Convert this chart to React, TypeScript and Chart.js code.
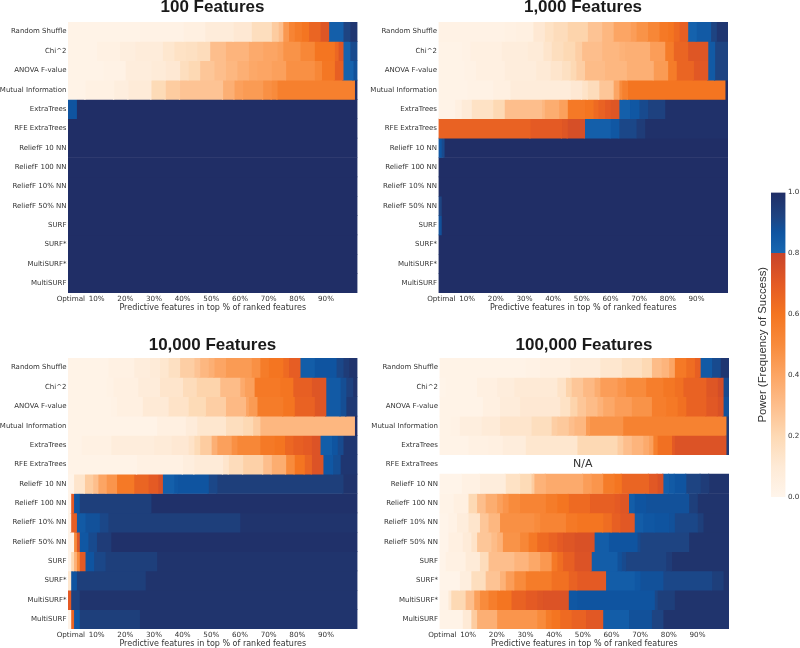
import React, { useEffect, useRef } from "react";
import { Chart, registerables } from "chart.js";

Chart.register(...registerables);

type Seg = [number, number]; // [last percentile column of the run, power]

const methods = ["Random Shuffle", "Chi^2", "ANOVA F-value", "Mutual Information", "ExtraTrees", "RFE ExtraTrees", "ReliefF 10 NN", "ReliefF 100 NN", "ReliefF 10% NN", "ReliefF 50% NN", "SURF", "SURF*", "MultiSURF*", "MultiSURF"];
const tickPositions = [1, 10, 20, 30, 40, 50, 60, 70, 80, 90];
const tickLabels = ["Optimal", "10%", "20%", "30%", "40%", "50%", "60%", "70%", "80%", "90%"];
const colorbarTicks = [0, 0.2, 0.4, 0.6, 0.8, 1];

const power100: Seg[][] = [
  [[25,.02],[40.2,.03],[47.8,.05],[57.7,.08],[64,.11],[71,.17],[73.4,.25],[75,.3],[77,.45],[79,.53],[81.5,.57],[84,.6],[88,.66],[91,.72],[96,.83],[98.4,.92],[101,.97]],
  [[10,.02],[18,.04],[23.4,.06],[33,.08],[37,.12],[41,.15],[45,.16],[49.5,.18],[55,.3],[63,.34],[68,.38],[73,.4],[75,.42],[81,.47],[86,.52],[93,.6],[94.3,.65],[96,.72],[98.4,.82],[101,.9]],
  [[12.3,.02],[20,.03],[29,.07],[34,.09],[39,.11],[42,.17],[46,.2],[51,.27],[55,.3],[59,.33],[63,.36],[66,.39],[71,.4],[76,.42],[86,.48],[88.5,.52],[93,.59],[96,.68],[99.5,.82],[101,.88]],
  [[6,.02],[16,.04],[21,.06],[29,.09],[34,.19],[39,.25],[54,.28],[58,.36],[61,.42],[68,.44],[71,.48],[73,.5],[100,.55],[101,1]],
  [[3,.87],[101,1]],
  [[101,1]], [[101,1]], [[101,1]], [[101,1]], [[101,1]], [[101,1]], [[101,1]], [[101,1]], [[101,1]],
];

const power1000: Seg[][] = [
  [[23,.03],[27,.04],[33,.05],[37,.11],[40,.15],[45,.18],[52,.22],[57,.28],[61,.33],[67,.4],[69,.43],[73,.47],[77,.52],[80,.58],[82,.6],[84,.64],[87,.68],[90,.82],[95,.85],[97,.92],[101,.97]],
  [[8,.02],[11,.03],[22,.05],[31,.07],[36.5,.09],[39.4,.13],[43.5,.17],[47.6,.2],[50,.24],[57,.3],[63,.33],[65,.35],[73.7,.36],[79,.43],[82,.57],[87,.66],[94,.72],[96.4,.85],[101,.92]],
  [[9,.02],[13,.03],[23,.05],[34,.07],[39,.1],[43,.13],[46,.16],[48,.2],[51,.24],[58,.31],[65.6,.33],[75,.36],[80,.44],[83,.57],[89,.66],[94,.71],[96.4,.85],[101,.92]],
  [[10,.02],[19,.03],[25,.05],[46,.08],[50,.11],[52,.14],[56,.18],[61,.27],[63,.4],[64,.5],[66,.55],[100,.6],[101,1]],
  [[5.7,.02],[8,.05],[11.5,.09],[19,.15],[23,.2],[36,.3],[37,.33],[42,.37],[45,.42],[51,.58],[54,.6],[55.7,.64],[58,.67],[60,.7],[63,.72],[66.7,.83],[70,.86],[73,.9],[79,.93],[101,.99]],
  [[32,.67],[43,.7],[45,.72],[51,.75],[60,.83],[63,.86],[69,.91],[72,.95],[101,.99]],
  [[1,.86],[2,.9],[101,1]],
  [[101,1]], [[101,1]],
  [[1,.92],[101,1]],
  [[1,.88],[101,1]],
  [[101,1]], [[101,1]], [[101,1]],
];

const power10000: Seg[][] = [
  [[14,.02],[23,.04],[28.5,.07],[32,.09],[35,.12],[39,.16],[44,.24],[46,.28],[49,.33],[51,.36],[55,.4],[64,.44],[67,.48],[70,.57],[75,.6],[77,.64],[81,.69],[86,.84],[93.6,.87],[96,.91],[98,.95],[101,.98]],
  [[13.4,.02],[15.7,.03],[24.4,.05],[32,.08],[40,.13],[44.8,.18],[53,.22],[60,.31],[61.6,.38],[65,.42],[74,.58],[78.5,.6],[85,.68],[90,.72],[95,.85],[97,.89],[99.4,.93],[101,.98]],
  [[15,.02],[17,.03],[26,.05],[35,.1],[42,.14],[48,.19],[55,.24],[62,.32],[63,.4],[66,.44],[75,.57],[79,.6],[86,.67],[90,.72],[95,.85],[97,.89],[101,.96]],
  [[31,.02],[41,.05],[45,.08],[55,.12],[61,.17],[64.5,.2],[67,.25],[100,.33],[101,1]],
  [[4.7,.02],[15,.04],[30,.07],[36,.09],[42,.11],[44,.14],[46,.19],[50,.25],[52,.36],[57,.42],[59,.48],[67,.52],[72,.58],[75.6,.6],[78.5,.65],[82,.68],[85,.7],[88,.73],[92,.84],[94,.87],[96,.9],[101,.97]],
  [[24,.02],[40,.04],[44,.06],[54,.09],[56,.13],[61,.18],[68,.23],[71,.3],[76,.37],[79,.5],[82.5,.6],[85,.66],[89,.73],[92.4,.86],[95,.89],[101,.97]],
  [[2,.01],[5.8,.13],[8.7,.25],[10.5,.3],[13.4,.4],[17,.46],[23,.58],[28,.66],[31.4,.7],[33,.74],[37,.83],[38.4,.86],[49,.87],[52,.91],[96,.94],[101,.98]],
  [[1,.01],[2,.7],[4,.87],[29,.94],[101,.99]],
  [[1,.02],[3,.68],[6,.85],[11,.88],[14,.91],[60,.94],[101,.98]],
  [[2,.02],[3,.5],[4,.72],[7,.86],[10,.9],[15,.95],[101,.99]],
  [[1,.01],[2,.2],[3,.35],[4,.5],[6,.7],[9,.87],[13,.91],[31,.94],[101,.98]],
  [[1,.12],[3,.87],[27,.94],[101,.98]],
  [[1,.7],[4,.93],[101,.98]],
  [[1,.02],[2,.66],[4,.86],[25,.94],[101,.98]],
];

const power100000: Seg[][] = [
  [[30,.02],[35,.03],[45.5,.05],[56,.08],[63.5,.12],[70.5,.16],[74,.2],[77.4,.31],[80,.34],[82,.4],[86,.58],[89,.63],[91,.68],[95,.85],[98,.9],[101,.97]],
  [[2,.01],[13,.02],[20,.05],[26,.07],[41,.1],[44,.14],[46,.22],[50,.27],[54,.32],[56,.37],[62,.43],[65,.46],[72,.5],[78,.56],[82,.59],[85,.62],[93,.67],[97,.72],[99,.76],[101,.9]],
  [[15,.02],[21,.05],[28,.08],[42,.11],[45.5,.15],[48,.22],[51,.27],[55,.31],[57,.35],[61,.39],[67,.43],[74,.47],[79,.56],[83,.58],[86,.62],[93,.67],[97,.71],[99,.74],[101,.88]],
  [[3.6,.02],[7,.03],[14.6,.06],[21,.09],[32,.13],[39,.17],[41,.24],[45,.26],[47,.3],[51,.33],[52.4,.44],[64,.47],[100,.54],[101,.95]],
  [[10,.02],[17,.04],[22,.05],[30,.07],[48,.12],[62,.2],[64,.25],[67,.3],[71,.34],[73,.38],[74.5,.42],[76,.55],[81,.62],[82,.7],[100,.73],[101,.95]],
  [],
  [[7.7,.01],[14,.04],[23,.07],[28,.15],[32,.19],[33,.25],[37,.35],[50,.38],[53,.43],[57,.46],[61,.57],[63.5,.6],[73,.66],[76,.71],[78,.74],[80,.83],[82,.85],[86,.87],[91,.92],[94,.95],[101,.98]],
  [[4.8,.02],[10,.05],[13,.2],[16,.3],[20,.37],[22,.42],[24,.46],[28,.5],[37,.53],[41,.57],[45,.6],[52.4,.64],[61,.68],[63,.7],[66,.72],[68,.84],[72,.87],[87,.88],[90,.94],[101,.98]],
  [[3,.01],[6,.03],[10,.07],[14,.13],[17,.27],[21,.33],[33,.48],[35,.5],[44,.53],[48,.58],[57,.6],[60,.63],[63,.68],[68,.71],[71,.84],[75,.86],[80,.87],[82,.88],[90,.91],[92,.94],[101,.98]],
  [[3,.01],[8,.05],[11,.09],[13,.14],[18,.27],[20,.31],[22,.35],[28,.47],[31,.52],[34,.58],[38,.64],[41,.67],[43,.7],[47,.72],[54,.74],[59,.84],[69,.87],[70,.9],[87,.92],[101,.98]],
  [[2,.01],[9,.04],[14,.09],[17,.18],[26,.3],[31,.34],[35,.39],[39,.45],[41,.58],[43,.63],[47,.68],[53,.73],[62,.84],[63.5,.88],[65,.9],[79,.92],[81,.95],[101,.98]],
  [[7,.01],[11,.06],[16,.17],[21,.28],[23,.35],[26,.43],[30,.5],[39,.57],[45,.62],[48,.67],[58,.7],[68,.84],[70,.86],[78,.88],[95,.91],[99,.94],[101,.98]],
  [[3,.02],[4,.1],[9,.2],[12,.3],[14,.42],[17,.5],[20,.56],[25,.6],[30,.67],[34,.7],[36,.72],[45,.73],[48,.86],[75,.87],[76,.91],[82,.94],[101,.98]],
  [[8,.02],[11,.1],[13,.25],[20,.36],[34,.46],[37,.5],[39,.57],[42,.6],[46,.64],[51,.67],[57,.71],[66,.84],[74,.88],[78,.92],[101,.98]],
];

const orangeStops: [number, number[]][] = [
  [0, [255, 245, 235]], [0.1, [254, 234, 214]], [0.2, [253, 217, 180]], [0.3, [253, 190, 140]],
  [0.4, [252, 165, 100]], [0.5, [248, 139, 60]], [0.6, [244, 117, 33]], [0.7, [228, 90, 36]], [0.8, [200, 68, 42]],
];
const blueStops: [number, number[]][] = [
  [0.8, [24, 104, 178]], [0.87, [15, 84, 160]], [0.92, [30, 68, 130]], [1, [32, 46, 102]],
];

function ramp(stops: [number, number[]][], v: number): string {
  for (let i = 1; i < stops.length; i++) {
    const [b, cb] = stops[i];
    const [a, ca] = stops[i - 1];
    if (v <= b) {
      const t = (v - a) / (b - a);
      return `rgb(${ca.map((c, j) => Math.round(c + (cb[j] - c) * t)).join(",")})`;
    }
  }
  const last = stops[stops.length - 1][1];
  return `rgb(${last.join(",")})`;
}
const powerColor = (v: number) => (v < 0.8 ? ramp(orangeStops, v) : ramp(blueStops, v));

const TEXT = "#333333";
const LABEL_FONT = "'DejaVu Sans'";
const TITLE_FONT = "'Liberation Sans'";

type PanelDef = { title: string; rows: Seg[][]; left: number; top: number; width: number; height: number; axisW: number; padRight: number; titleGap: number; naRow?: number };

const panels: PanelDef[] = [
  { title: "100 Features", rows: power100, left: 0, top: -1, width: 425, height: 326, axisW: 68, padRight: 67.5, titleGap: 6 },
  { title: "1,000 Features", rows: power1000, left: 370, top: -1, width: 426, height: 326, axisW: 68.5, padRight: 68, titleGap: 6 },
  { title: "10,000 Features", rows: power10000, left: 0, top: 337, width: 425, height: 324, axisW: 68, padRight: 67.5, titleGap: 4 },
  { title: "100,000 Features", rows: power100000, left: 371, top: 337, width: 426, height: 324, axisW: 68.5, padRight: 68, titleGap: 4, naRow: 5 },
];

function Panel({ def }: { def: PanelDef }) {
  const ref = useRef<HTMLCanvasElement>(null);
  useEffect(() => {
    // one dataset per run, so each row is painted as a unit
    const datasets = def.rows.flatMap((row, r) =>
      row.map((seg, k) => {
        // each run reaches slightly under the previous one so no seam shows
        const start = k === 0 ? 0 : row[k - 1][0] - 0.2;
        return {
          data: def.rows.map((_, i) => (i === r ? [start, seg[0]] : null)),
          backgroundColor: powerColor(seg[1]),
          borderWidth: 0,
          barPercentage: 1,
          categoryPercentage: 1,
          grouped: false,
        };
      })
    );
    const naPlugin = {
      id: "naText",
      afterDatasetsDraw(chart: any) {
        if (def.naRow === undefined) return;
        const { ctx, scales } = chart;
        ctx.save();
        ctx.font = `11px ${LABEL_FONT}`;
        ctx.fillStyle = TEXT;
        ctx.textAlign = "center";
        ctx.textBaseline = "middle";
        ctx.fillText("N/A", scales.x.getPixelForValue(50), scales.y.getPixelForValue(def.naRow));
        ctx.restore();
      },
    };
    const chart = new Chart(ref.current!, {
      type: "bar",
      data: { labels: methods, datasets: datasets as any },
      plugins: [naPlugin],
      options: {
        indexAxis: "y",
        animation: false,
        responsive: false,
        devicePixelRatio: 1,
        layout: { padding: 0 },
        plugins: {
          legend: { display: false },
          tooltip: { enabled: false },
          title: {
            display: true,
            text: def.title,
            color: "#1a1a1a",
            font: { family: TITLE_FONT, size: 17, weight: "bold", lineHeight: 1 },
            padding: { top: 0, bottom: def.titleGap },
          },
        },
        scales: {
          x: {
            type: "linear",
            min: 0,
            max: 101,
            grid: { display: false, drawTicks: false },
            border: { display: false },
            afterBuildTicks: (s: any) => {
              s.ticks = tickPositions.map((value) => ({ value }));
            },
            afterFit: (s: any) => {
              s.height = 32;
            },
            ticks: {
              autoSkip: false,
              maxRotation: 0,
              minRotation: 0,
              padding: 2,
              color: TEXT,
              font: { family: LABEL_FONT, size: 7.2 },
              callback: (_v: any, i: number) => tickLabels[i],
            },
            title: {
              display: true,
              text: "Predictive features in top % of ranked features",
              color: TEXT,
              font: { family: LABEL_FONT, size: 8 },
              padding: { top: 1, bottom: 12 },
            },
          },
          y: {
            type: "category",
            reverse: false,
            offset: true,
            grid: { display: false, drawTicks: false },
            border: { display: false },
            afterFit: (s: any) => {
              s.width = def.axisW;
            },
            ticks: {
              autoSkip: false,
              padding: 1.5,
              color: TEXT,
              font: { family: LABEL_FONT, size: 7 },
            },
          },
          // empty axis holding the right margin, so the title centres on the plot
          rightMargin: {
            type: "linear",
            position: "right",
            grid: { display: false, drawTicks: false },
            border: { display: false },
            ticks: { display: false },
            afterFit: (s: any) => {
              s.width = def.padRight;
            },
          },
        },
      } as any,
    });
    return () => chart.destroy();
  }, [def]);
  return (
    <canvas
      ref={ref}
      width={def.width}
      height={def.height}
      style={{ position: "absolute", left: def.left, top: def.top, width: def.width, height: def.height }}
    />
  );
}

function Colorbar() {
  const ref = useRef<HTMLCanvasElement>(null);
  useEffect(() => {
    const chart = new Chart(ref.current!, {
      type: "bar",
      data: {
        labels: ["Power"],
        datasets: [
          {
            data: [[0, 1]],
            yAxisID: "y",
            barPercentage: 1,
            categoryPercentage: 1,
            borderWidth: 0,
            backgroundColor: (c: any) => {
              const { ctx, chartArea, scales } = c.chart;
              if (!chartArea) return "#000";
              const g = ctx.createLinearGradient(0, scales.y.getPixelForValue(0), 0, scales.y.getPixelForValue(1));
              orangeStops.forEach(([v, col]) => g.addColorStop(v, `rgb(${col.join(",")})`));
              blueStops.forEach(([v, col]) => g.addColorStop(v, `rgb(${col.join(",")})`));
              return g;
            },
          },
        ] as any,
      },
      options: {
        animation: false,
        responsive: false,
        devicePixelRatio: 1,
        layout: { padding: { top: 12.5, bottom: 13, left: 0, right: 0 } },
        plugins: { legend: { display: false }, tooltip: { enabled: false } },
        scales: {
          x: { display: false, offset: true, grid: { display: false } },
          y: {
            position: "right",
            min: 0,
            max: 1,
            grid: { display: false, drawTicks: false },
            border: { display: false },
            afterBuildTicks: (s: any) => {
              s.ticks = colorbarTicks.map((value) => ({ value }));
            },
            afterFit: (s: any) => {
              s.width = 14.5;
            },
            ticks: {
              padding: 2.5,
              color: TEXT,
              font: { family: LABEL_FONT, size: 7.2 },
              callback: (v: any) => Number(v).toFixed(1),
            },
          },
          yTitle: {
            position: "left",
            min: 0,
            max: 1,
            grid: { display: false, drawTicks: false },
            border: { display: false },
            ticks: { display: false },
            afterFit: (s: any) => {
              s.width = 31;
            },
            title: {
              display: true,
              text: "Power (Frequency of Success)",
              color: TEXT,
              font: { family: TITLE_FONT, size: 11.4 },
              padding: { top: 16, bottom: 0 },
            },
          },
        },
      } as any,
    });
    return () => chart.destroy();
  }, []);
  return (
    <canvas
      ref={ref}
      width={60}
      height={330}
      style={{ position: "absolute", left: 740, top: 180, width: 60, height: 330 }}
    />
  );
}

export default function App() {
  return (
    <div style={{ position: "absolute", left: 0, top: 0, width: 800, height: 648, overflow: "hidden", background: "#fff" }}>
      {panels.map((p) => (
        <Panel key={p.title} def={p} />
      ))}
      <Colorbar />
    </div>
  );
}
